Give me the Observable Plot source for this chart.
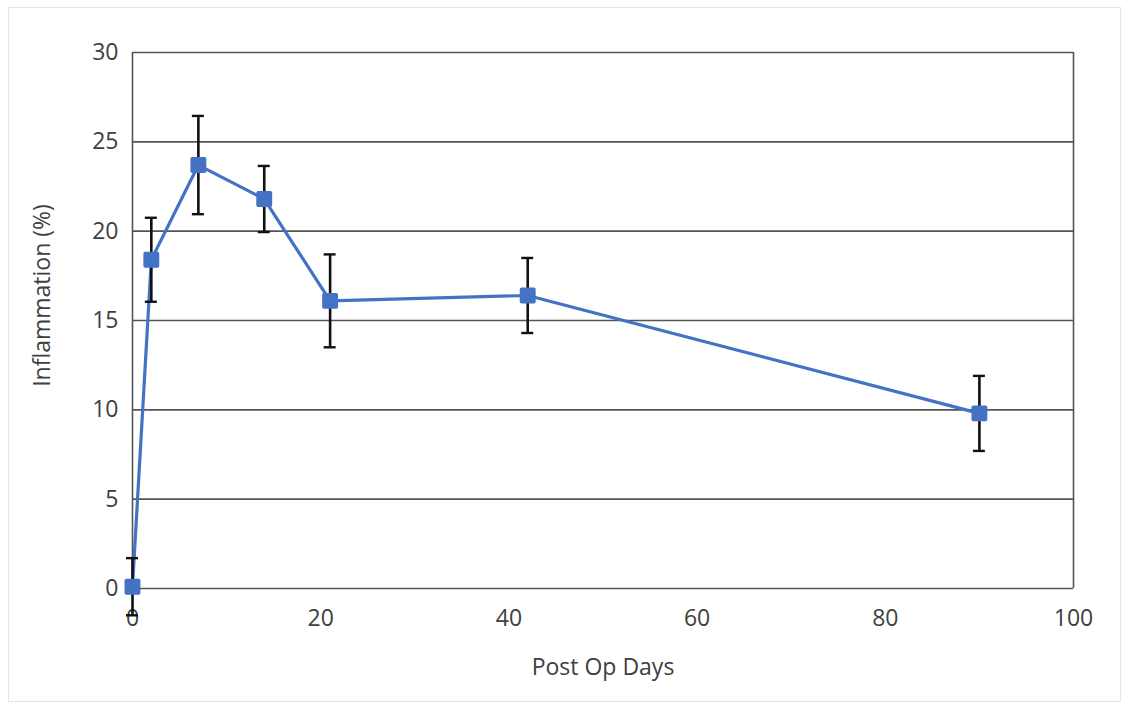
<!DOCTYPE html>
<html>
<head>
<meta charset="utf-8">
<script src="https://cdn.jsdelivr.net/npm/d3@7"></script>
<script src="https://cdn.jsdelivr.net/npm/@observablehq/plot@0.6"></script>
<style>
  html, body { margin: 0; padding: 0; background: #fff; }
  #wrap { position: relative; width: 1127px; height: 706px; }
  #border { position: absolute; left: 8px; top: 7px; width: 1113px; height: 695px; border: 1px solid #e4e4e4; box-sizing: border-box; pointer-events: none; }
</style>
</head>
<body>
<div id="wrap"><div id="border"></div></div>
<script>
const days = [0, 2, 7, 14, 21, 42, 90];
const inflammation = [0.1, 18.4, 23.7, 21.8, 16.1, 16.4, 9.8];
const errors = [1.6, 2.35, 2.75, 1.85, 2.6, 2.1, 2.1];
const xTicks = [0, 20, 40, 60, 80, 100];
const yTicks = [0, 5, 10, 15, 20, 25, 30];
const xTitle = "Post Op Days";
const yTitle = "Inflammation (%)";

const data = days.map((d, i) => ({day: d, value: inflammation[i], err: errors[i]}));
const blue = "#4472C4";

const chart = Plot.plot({
  width: 1127,
  height: 706,
  marginLeft: 132,
  marginRight: 54,
  marginTop: 52,
  marginBottom: 118,
  style: {fontFamily: "'Open Sans', sans-serif", fontSize: "23px", color: "#404040", background: "transparent", overflow: "visible"},
  x: {domain: [0, 100], ticks: xTicks, tickSize: 0, tickPadding: 21, label: xTitle, labelAnchor: "center", labelOffset: 86, labelArrow: "none"},
  y: {domain: [0, 30], ticks: yTicks, tickSize: 0, tickPadding: 14, label: null},
  marks: [
    Plot.ruleY(yTicks, {stroke: "#555", strokeWidth: 1.6}),
    Plot.ruleX([0, 100], {stroke: "#555", strokeWidth: 1.6}),
    Plot.text([yTitle], {text: d => d, frameAnchor: "left", textAnchor: "middle", rotate: -90, dx: -90, dy: -25, fill: "#404040", fontSize: 23}),
    Plot.line(data, {x: "day", y: "value", stroke: blue, strokeWidth: 3.2}),
    Plot.ruleX(data, {x: "day", y1: d => d.value - d.err, y2: d => d.value + d.err, stroke: "#111", strokeWidth: 2.6}),
    Plot.ruleY(data, {x1: "day", x2: "day", y: d => d.value + d.err, stroke: "#111", strokeWidth: 2.4, insetLeft: -6, insetRight: -6}),
    Plot.ruleY(data, {x1: "day", x2: "day", y: d => d.value - d.err, stroke: "#111", strokeWidth: 2.4, insetLeft: -6, insetRight: -6}),
    Plot.dot(data, {x: "day", y: "value", symbol: "square", r: 7, fill: blue, stroke: blue, strokeWidth: 3.5, strokeLinejoin: "round"})
  ]
});
document.getElementById("wrap").appendChild(chart);
</script>
</body>
</html>
